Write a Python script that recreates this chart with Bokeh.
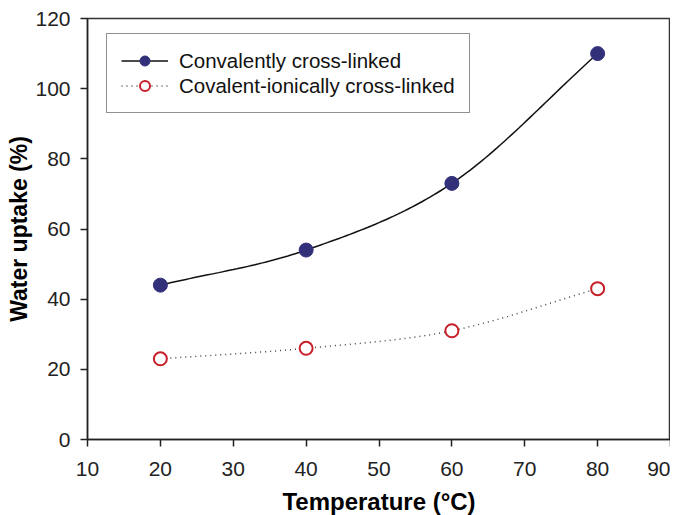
import numpy as np
from bokeh.plotting import figure
from bokeh.models import Legend, LegendItem, FixedTicker, Range1d
from bokeh.embed import file_html
from bokeh.resources import INLINE

temperature = [20, 40, 60, 80]
covalent = [44, 54, 73, 110]
covalent_ionic = [23, 26, 31, 43]
x_ticks = [10, 20, 30, 40, 50, 60, 70, 80, 90]
y_ticks = [0, 20, 40, 60, 80, 100, 120]


def smooth(xs, ys, n=40):
    # Catmull-Rom spline through the data points (curve rendering only)
    x = np.asarray(xs, float)
    y = np.asarray(ys, float)
    px = np.concatenate([[2 * x[0] - x[1]], x, [2 * x[-1] - x[-2]]])
    py = np.concatenate([[2 * y[0] - y[1]], y, [2 * y[-1] - y[-2]]])
    ox, oy = [], []
    for i in range(1, len(px) - 2):
        t = np.linspace(0, 1, n, endpoint=(i == len(px) - 3))
        for arr, out in ((px, ox), (py, oy)):
            p0, p1, p2, p3 = arr[i - 1], arr[i], arr[i + 1], arr[i + 2]
            out.extend(0.5 * ((2 * p1) + (-p0 + p2) * t
                              + (2 * p0 - 5 * p1 + 4 * p2 - p3) * t ** 2
                              + (-p0 + 3 * p1 - 3 * p2 + p3) * t ** 3))
    return ox, oy


FONT = "Liberation Sans"

p = figure(frame_width=583, frame_height=421, output_backend="svg",
           toolbar_location=None, x_range=Range1d(10, 90), y_range=Range1d(0, 120),
           min_border_left=87, min_border_right=0, min_border_top=18,
           min_border_bottom=75)
p.grid.visible = False
p.outline_line_color = "#333333"
p.outline_line_width = 1.5
p.background_fill_color = "white"
p.border_fill_color = "white"

for ax in (p.xaxis[0], p.yaxis[0]):
    ax.major_label_text_font = FONT
    ax.major_label_text_font_size = "21px"
    ax.major_label_text_color = "#222222"
    ax.axis_label_text_font = FONT
    ax.axis_label_text_font_size = "24px"
    ax.axis_label_text_font_style = "bold"
    ax.axis_label_text_color = "black"
    ax.axis_line_color = "#222222"
    ax.axis_line_width = 1.5
    ax.major_tick_line_color = "#222222"
    ax.major_tick_line_width = 1.5
    ax.major_tick_out = 7
    ax.major_tick_in = 0
    ax.minor_tick_line_color = None

p.yaxis.axis_label_text_font_size = "23px"
p.xaxis.ticker = FixedTicker(ticks=x_ticks)
p.yaxis.ticker = FixedTicker(ticks=y_ticks)
p.xaxis.axis_label = "Temperature (\u00b0C)"
p.yaxis.axis_label = "Water uptake (%)"
p.xaxis.major_label_standoff = 15
p.yaxis.major_label_standoff = 10
p.xaxis.axis_label_standoff = 9
p.yaxis.axis_label_standoff = 0

sx1, sy1 = smooth(temperature, covalent)
sx2, sy2 = smooth(temperature, covalent_ionic)

l1 = p.line(sx1, sy1, line_color="#111111", line_width=1.5)
l2 = p.line(sx2, sy2, line_color="#444444", line_width=1.5, line_dash="1 4")
m1 = p.scatter(temperature, covalent, size=14, fill_color="#33307a",
               line_color="#33307a")
m2 = p.scatter(temperature, covalent_ionic, size=13, fill_color="white",
               line_color="#c8202a", line_width=2)

legend = Legend(items=[
    LegendItem(label="Convalently cross-linked", renderers=[l1, m1]),
    LegendItem(label="Covalent-ionically cross-linked", renderers=[l2, m2]),
], location=(19, 326))
legend.label_text_font = FONT
legend.label_text_font_size = "20.5px"
legend.label_text_color = "#111111"
legend.border_line_color = "#222222"
legend.border_line_width = 1.5
legend.padding = 14
legend.spacing = 0
legend.glyph_width = 47
legend.glyph_height = 25
legend.label_height = 25
legend.label_standoff = 11
legend.background_fill_alpha = 1
p.add_layout(legend, "center")

open("out.html", "w").write(file_html(p, INLINE))
